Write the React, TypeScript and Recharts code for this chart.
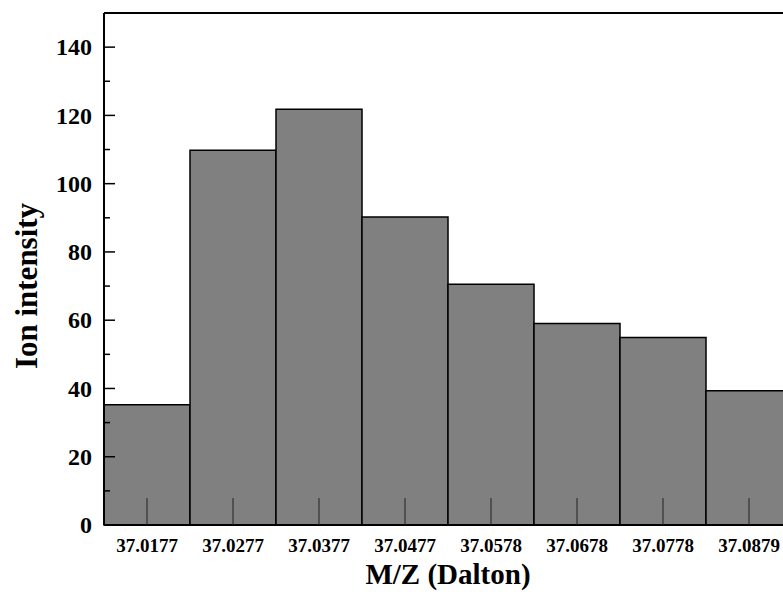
import { BarChart, Bar, XAxis, YAxis, Label } from "recharts";

const categories = [
  "37.0177",
  "37.0277",
  "37.0377",
  "37.0477",
  "37.0578",
  "37.0678",
  "37.0778",
  "37.0879",
];
const intensity = [35.2, 109.8, 121.8, 90.2, 70.5, 59, 54.9, 39.3];
const yTicks = [0, 10, 20, 30, 40, 50, 60, 70, 80, 90, 100, 110, 120, 130, 140, 150];

const data = categories.map((mz, i) => ({ mz, intensity: intensity[i] }));

const FONT = '"Liberation Serif", "Times New Roman", serif';

// y ticks point inward; only every 20 gets a label
function YTick(props: any) {
  const { x, y, payload } = props;
  const major = payload.value % 20 === 0;
  return (
    <g>
      <line x1={x} x2={x + (major ? 11 : 6)} y1={y} y2={y} stroke="#000" strokeWidth={1.5} />
      {major && (
        <text
          x={x - 12}
          y={y}
          dy="0.34em"
          textAnchor="end"
          fontFamily={FONT}
          fontWeight="bold"
          fontSize={24}
          fill="#000"
        >
          {payload.value}
        </text>
      )}
    </g>
  );
}

function XTick(props: any) {
  const { x, y, payload } = props;
  return (
    <g>
      <line x1={x} x2={x} y1={y} y2={y - 27} stroke="#222" strokeWidth={1} />
      <text
        x={x}
        y={y + 27}
        textAnchor="middle"
        fontFamily={FONT}
        fontWeight="bold"
        fontSize={19}
        fill="#000"
      >
        {payload.value}
      </text>
    </g>
  );
}

export default function App() {
  return (
    <div
      style={{
        position: "fixed",
        left: 0,
        top: 0,
        width: 783,
        height: 592,
        overflow: "hidden",
        background: "#fff",
      }}
    >
      <BarChart
        width={800}
        height={592}
        data={data}
        barCategoryGap={0}
        margin={{ top: 12, right: 8, left: 0, bottom: 0 }}
      >
        <XAxis
          dataKey="mz"
          height={67}
          interval={0}
          tickLine={false}
          tickSize={0}
          tickMargin={0}
          tick={<XTick />}
          axisLine={{ stroke: "#000", strokeWidth: 2 }}
        >
          <Label
            value="M/Z (Dalton)"
            position="insideBottom"
            offset={8}
            fontFamily={FONT}
            fontWeight="bold"
            fontSize={29}
            fill="#000"
          />
        </XAxis>
        {/* frame top edge */}
        <XAxis
          xAxisId="top"
          dataKey="mz"
          orientation="top"
          height={1}
          tick={false}
          tickLine={false}
          axisLine={{ stroke: "#000", strokeWidth: 2 }}
        />
        <YAxis
          width={104}
          domain={[0, 150]}
          ticks={yTicks}
          interval={0}
          tickLine={false}
          tickSize={0}
          tickMargin={0}
          tick={<YTick />}
          axisLine={{ stroke: "#000", strokeWidth: 2 }}
        >
          <Label
            content={(p: any) => {
              const vb = p.viewBox;
              const cx = vb.x + 37;
              const cy = vb.y + vb.height / 2 + 17;
              return (
                <text
                  x={cx}
                  y={cy}
                  transform={`rotate(-90 ${cx} ${cy})`}
                  textAnchor="middle"
                  fontFamily={FONT}
                  fontWeight="bold"
                  fontSize={31}
                  fill="#000"
                >
                  Ion intensity
                </text>
              );
            }}
          />
        </YAxis>
        <Bar
          dataKey="intensity"
          fill="#808080"
          stroke="#000"
          strokeWidth={1.5}
          isAnimationActive={false}
        />
      </BarChart>
    </div>
  );
}
